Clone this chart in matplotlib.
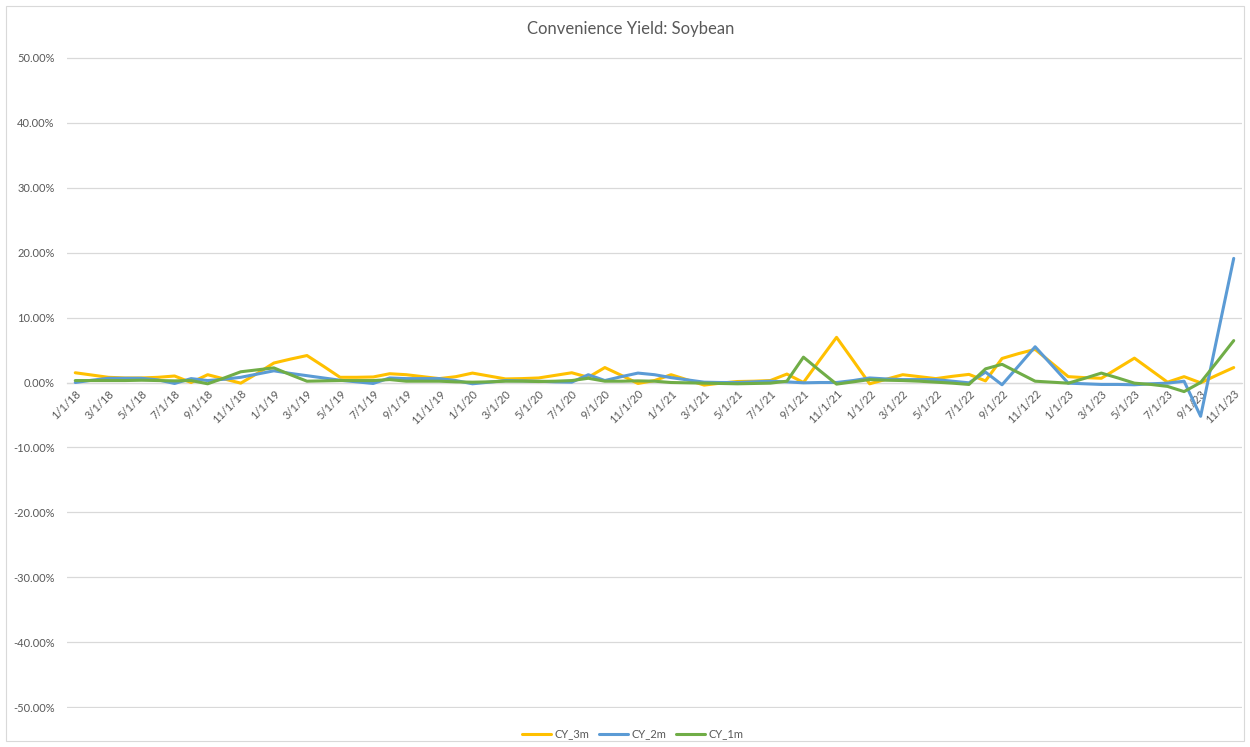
import matplotlib
matplotlib.use("Agg")
import matplotlib.pyplot as plt
from matplotlib.patches import Rectangle
from matplotlib.ticker import FuncFormatter, FixedLocator

# Monthly observations, 1/1/18 .. 11/1/23 (values in percent)
months = [f"{m}/1/{y}" for y in range(18, 24) for m in range(1, 13)][:71]

cy_3m = [1.5, 1.15, 0.8, 0.7, 0.7, 0.8, 1.0, 0.0, 1.2, 0.55, -0.1, 1.4,
         3.0, 3.6, 4.15, 2.5, 0.8, 0.8, 0.85, 1.35, 1.2, 0.9, 0.6, 0.9,
         1.45, 1.0, 0.55, 0.6, 0.7, 1.1, 1.5, 0.8, 2.3, 1.1, -0.15, 0.3,
         1.2, 0.4, -0.4, -0.1, 0.15, 0.2, 0.3, 1.3, 0.0, 3.5, 6.95, 3.4,
         -0.2, 0.5, 1.2, 0.9, 0.6, 0.95, 1.25, 0.25, 3.7, 4.45, 5.1, 3.0,
         0.9, 0.75, 0.65, 2.2, 3.75, 1.9, 0.05, 0.9, -0.05, 1.15, 2.3]

cy_2m = [0.0, 0.35, 0.65, 0.65, 0.65, 0.4, -0.15, 0.6, 0.3, 0.5, 0.8, 1.3,
         1.8, 1.4, 1.05, 0.7, 0.35, 0.1, -0.15, 0.7, 0.6, 0.6, 0.6, 0.3,
         -0.2, 0.05, 0.3, 0.25, 0.2, 0.1, 0.05, 1.2, 0.3, 0.9, 1.45, 1.2,
         0.75, 0.4, 0.05, 0.0, 0.0, 0.1, 0.2, 0.1, -0.05, 0.0, 0.0, 0.3,
         0.7, 0.55, 0.45, 0.45, 0.45, 0.2, -0.05, 1.6, -0.35, 2.55, 5.5, 2.7,
         -0.1, -0.2, -0.3, -0.3, -0.35, -0.2, -0.1, 0.2, -5.2, 7.0, 19.1]

cy_1m = [0.3, 0.3, 0.3, 0.3, 0.35, 0.3, 0.25, 0.3, -0.2, 0.7, 1.65, 1.95,
         2.25, 1.2, 0.2, 0.25, 0.3, 0.3, 0.3, 0.45, 0.2, 0.2, 0.2, 0.1,
         0.05, 0.1, 0.2, 0.2, 0.15, 0.2, 0.3, 0.65, 0.2, 0.2, 0.25, 0.2,
         0.0, -0.05, -0.1, -0.15, -0.2, -0.15, -0.1, 0.2, 3.9, 1.8, -0.25, 0.1,
         0.45, 0.35, 0.3, 0.2, 0.05, -0.1, -0.3, 2.1, 2.8, 1.5, 0.2, 0.05,
         -0.1, 0.65, 1.45, 0.7, -0.1, -0.3, -0.6, -1.4, 0.0, 3.2, 6.45]

series = [("CY_3m", cy_3m, "#FFC000"),
          ("CY_2m", cy_2m, "#5B9BD5"),
          ("CY_1m", cy_1m, "#70AD47")]

plt.rcParams["font.family"] = ["Lato", "DejaVu Sans"]
text_gray = "#595959"
grid_gray = "#D9D9D9"

fig = plt.figure(figsize=(12.5, 7.47), dpi=100)
fig.patch.set_facecolor("white")
W, H = 1250, 747

# outer chart border
fig.patches.append(Rectangle((6 / W, 6 / H), 1238 / W, 735 / H,
                             transform=fig.transFigure, fill=False,
                             edgecolor=grid_gray, linewidth=0.8))

ax = fig.add_axes([67 / W, 1 - 708 / H, (1242 - 67) / W, (708 - 57) / H])
ax.set_facecolor("white")

# category axis crosses the value axis at zero
for s in ("top", "right", "left"):
    ax.spines[s].set_visible(False)
ax.spines["bottom"].set_position(("data", 0))
ax.spines["bottom"].set_color(grid_gray)
ax.spines["bottom"].set_linewidth(0.9)
ax.spines["bottom"].set_zorder(0.5)

x = list(range(len(months)))
for name, vals, color in series:
    ax.plot(x, [v / 100 for v in vals], color=color, lw=2.2, label=name,
            solid_joinstyle="round", solid_capstyle="round")

ax.set_xlim(-0.5, len(months) - 0.5)
ax.set_ylim(-0.501, 0.501)
ax.yaxis.set_major_locator(FixedLocator([i / 10 for i in range(-5, 6)]))
ax.yaxis.set_major_formatter(FuncFormatter(lambda v, _: f"{v * 100:.2f}%"))
ax.grid(axis="y", color=grid_gray, lw=0.9)
ax.set_axisbelow(True)

tick_idx = list(range(0, len(months), 2))
ax.set_xticks(tick_idx)
ax.set_xticklabels([months[i] for i in tick_idx])
ax.tick_params(axis="x", length=0, pad=4, labelsize=8, labelcolor=text_gray,
               labelrotation=45)
ax.tick_params(axis="y", length=0, pad=9, labelsize=8, labelcolor=text_gray)
for lbl in ax.get_xticklabels():
    lbl.set_ha("right")
    lbl.set_rotation_mode("anchor")

fig.text(631 / W, 1 - 29 / H, "Convenience Yield: Soybean", ha="center",
         va="center", fontsize=12, color=text_gray)

leg = fig.legend(loc="center", bbox_to_anchor=(633 / W, 1 - 734 / H), ncol=3,
                 frameon=False, fontsize=8, handlelength=2.6,
                 handletextpad=0.3, columnspacing=0.9)
for t in leg.get_texts():
    t.set_color(text_gray)

fig.savefig("out.png", dpi=100, facecolor="white")
